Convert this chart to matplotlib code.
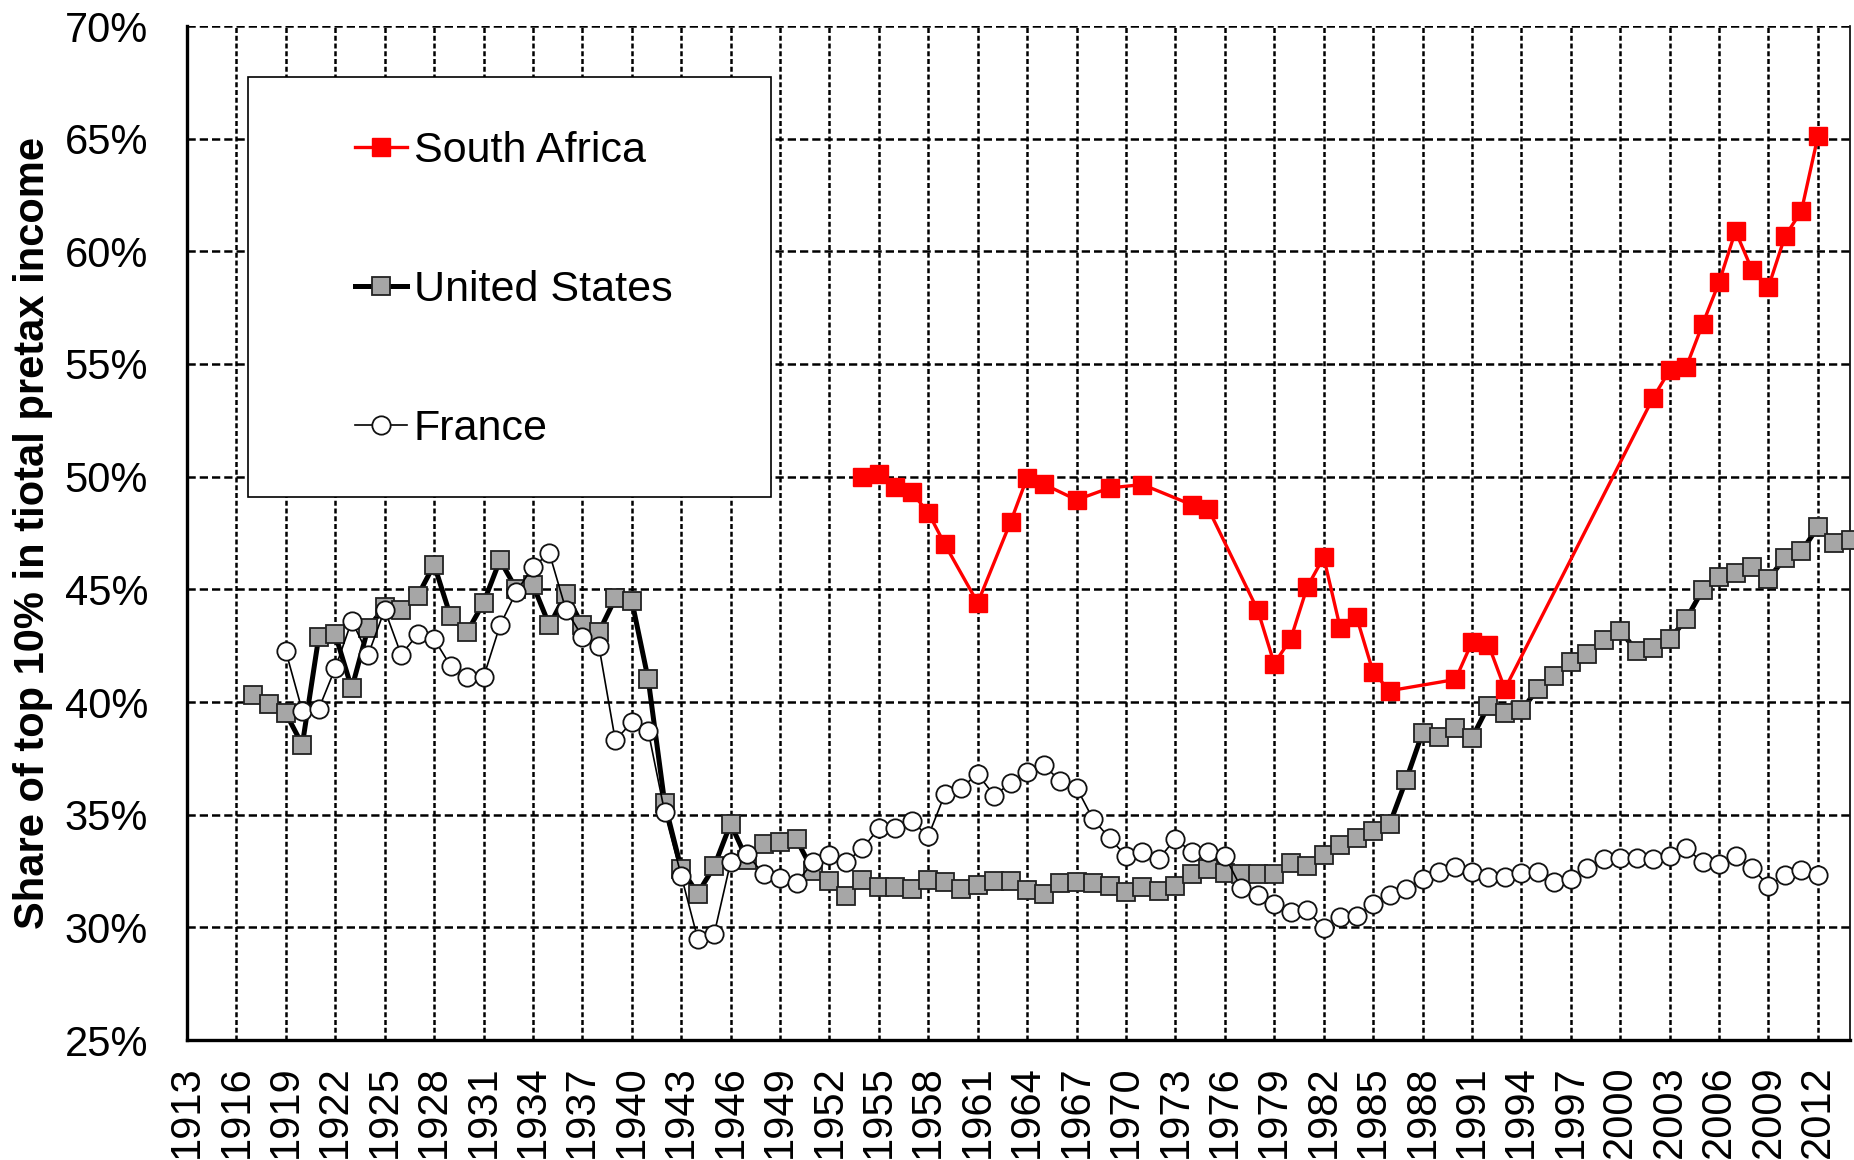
import matplotlib
matplotlib.use("Agg")
import matplotlib.pyplot as plt
from matplotlib.patches import Rectangle
from matplotlib.ticker import FuncFormatter

# top 10% share of total pretax income (%)
sa_years = [1954, 1955, 1956, 1957, 1958, 1959, 1961, 1963, 1964, 1965, 1967,
            1969, 1971, 1974, 1975, 1978, 1979, 1980, 1981, 1982, 1983, 1984,
            1985, 1986, 1990, 1991, 1992, 1993, 2002, 2003, 2004, 2005, 2006,
            2007, 2008, 2009, 2010, 2011, 2012]
sa_share = [50.0, 50.1, 49.56, 49.3, 48.4, 47.0, 44.4, 48.0, 49.96, 49.67, 48.97,
            49.5, 49.65, 48.75, 48.57, 44.07, 41.7, 42.8, 45.1, 46.43, 43.3, 43.76,
            41.33, 40.5, 41.0, 42.65, 42.55, 40.58, 53.5, 54.72, 54.85, 56.76, 58.62,
            60.9, 59.18, 58.42, 60.66, 61.79, 65.1]

us_years = list(range(1917, 2015))
us_share = [40.3, 39.9, 39.5, 38.1, 42.9, 43.0, 40.6, 43.3, 44.2, 44.1,    # 1917-1926
            44.7, 46.1, 43.8, 43.1, 44.4, 46.3, 45.0, 45.2, 43.4, 44.8,    # 1927-1936
            43.4, 43.1, 44.6, 44.5, 41.0, 35.5, 32.6, 31.5, 32.7, 34.6,    # 1937-1946
            33.0, 33.7, 33.8, 33.9, 32.5, 32.05, 31.4, 32.1, 31.8, 31.8,   # 1947-1956
            31.7, 32.1, 32.0, 31.7, 31.9, 32.05, 32.05, 31.65, 31.5, 31.95,  # 1957-1966
            32.03, 31.98, 31.82, 31.55, 31.77, 31.6, 31.82, 32.38, 32.6, 32.4,  # 1967-1976
            32.38, 32.38, 32.38, 32.87, 32.73, 33.2, 33.65, 33.96, 34.28, 34.57,  # 1977-1986
            36.53, 38.64, 38.43, 38.83, 38.4, 39.83, 39.52, 39.63, 40.58, 41.15,  # 1987-1996
            41.76, 42.14, 42.73, 43.16, 42.27, 42.4, 42.78, 43.67, 44.97, 45.54,  # 1997-2006
            45.71, 46.0, 45.48, 46.38, 46.68, 47.76, 47.07, 47.2]                 # 2007-2014

fr_years = list(range(1919, 2013))
fr_share = [42.25, 39.6, 39.7, 41.5, 43.6, 42.1, 44.1, 42.1, 43.0, 42.8,   # 1919-1928
            41.6, 41.1, 41.1, 43.4, 44.9, 46.0, 46.6, 44.1, 42.9, 42.5,    # 1929-1938
            38.3, 39.1, 38.7, 35.1, 32.3, 29.5, 29.7, 32.9, 33.25, 32.35,  # 1939-1948
            32.2, 31.97, 32.9, 33.2, 32.9, 33.5, 34.4, 34.4, 34.7, 34.05,  # 1949-1958
            35.9, 36.2, 36.8, 35.85, 36.4, 36.9, 37.2, 36.5, 36.2, 34.8,   # 1959-1968
            33.96, 33.17, 33.36, 33.04, 33.93, 33.33, 33.36, 33.17, 31.74, 31.43,  # 1969-1978
            31.03, 30.67, 30.75, 29.95, 30.44, 30.5, 31.03, 31.43, 31.7, 32.14,    # 1979-1988
            32.46, 32.66, 32.45, 32.22, 32.22, 32.4, 32.45, 32.0, 32.14, 32.65,    # 1989-1998
            33.04, 33.09, 33.09, 33.04, 33.16, 33.5, 32.9, 32.83, 33.16, 32.65,    # 1999-2008
            31.83, 32.32, 32.53, 32.32]                                            # 2009-2012

labels = ["South Africa", "United States", "France"]
year_ticks = list(range(1913, 2013, 3))
pct_ticks = [25, 30, 35, 40, 45, 50, 55, 60, 65, 70]

plt.rcParams['font.family'] = ['Liberation Sans', 'DejaVu Sans']

W, H = 1854, 1160
fig = plt.figure(figsize=(W / 100, H / 100), dpi=100)
ax = fig.add_axes([187 / W, 120 / H, 1663 / W, 1014 / H])

us_line, = ax.plot(us_years, us_share, color='black', lw=3.6, marker='s',
                   ms=12.8, mfc='#a6a6a6', mec='#222222', mew=1.3,
                   zorder=3, clip_on=False)
fr_line, = ax.plot(fr_years, fr_share, color='black', lw=1.2, marker='o',
                   ms=13.2, mfc='white', mec='#111111', mew=1.3, zorder=4)
sa_line, = ax.plot(sa_years, sa_share, color='#ff0000', lw=2.4, marker='s',
                   ms=13.5, mfc='#ff0000', mec='#ff0000', mew=1,
                   zorder=5)

ax.set_xlim(1913, 2013.95)
ax.set_ylim(25, 70)
ax.set_xticks(year_ticks)
ax.set_yticks(pct_ticks)
ax.yaxis.set_major_formatter(FuncFormatter(lambda v, p: f"{v:.0f}%"))
ax.tick_params(axis='both', length=0, labelsize=30)
ax.tick_params(axis='y', pad=28)
ax.tick_params(axis='x', pad=18, labelrotation=90)

ax.grid(axis='y', color='black', lw=1.8, linestyle=(0, (3.3, 1.6)))
ax.grid(axis='x', color='black', lw=1.8, linestyle=(0, (2.0, 1.1)))
ax.set_axisbelow(True)

ax.spines['top'].set_visible(False)
ax.spines['left'].set_linewidth(2.4)
ax.spines['bottom'].set_linewidth(2.4)
ax.spines['right'].set_linewidth(1.2)

ax.set_ylabel("Share of top 10% in tiotal pretax income", fontsize=30,
              fontweight='bold')
ax.yaxis.set_label_coords((53 - 187) / 1663, 0.5)

# legend: white box drawn by hand, entries placed inside without frame
box = Rectangle((248 / W, 1 - 497 / H), 523 / W, 420 / H, transform=fig.transFigure,
                facecolor='white', edgecolor='black', lw=1.2, zorder=6,
                clip_on=False)
ax.add_patch(box)

leg = ax.legend([sa_line, us_line, fr_line], labels, loc='upper left',
                bbox_to_anchor=(355 / W, 1 - 131 / H), bbox_transform=fig.transFigure,
                frameon=False, borderpad=0, borderaxespad=0, handlelength=1.21,
                handletextpad=0.16, labelspacing=2.3,
                prop={'family': 'Liberation Sans', 'size': 31})
leg.set_zorder(7)

fig.savefig("out.png", dpi=100)
